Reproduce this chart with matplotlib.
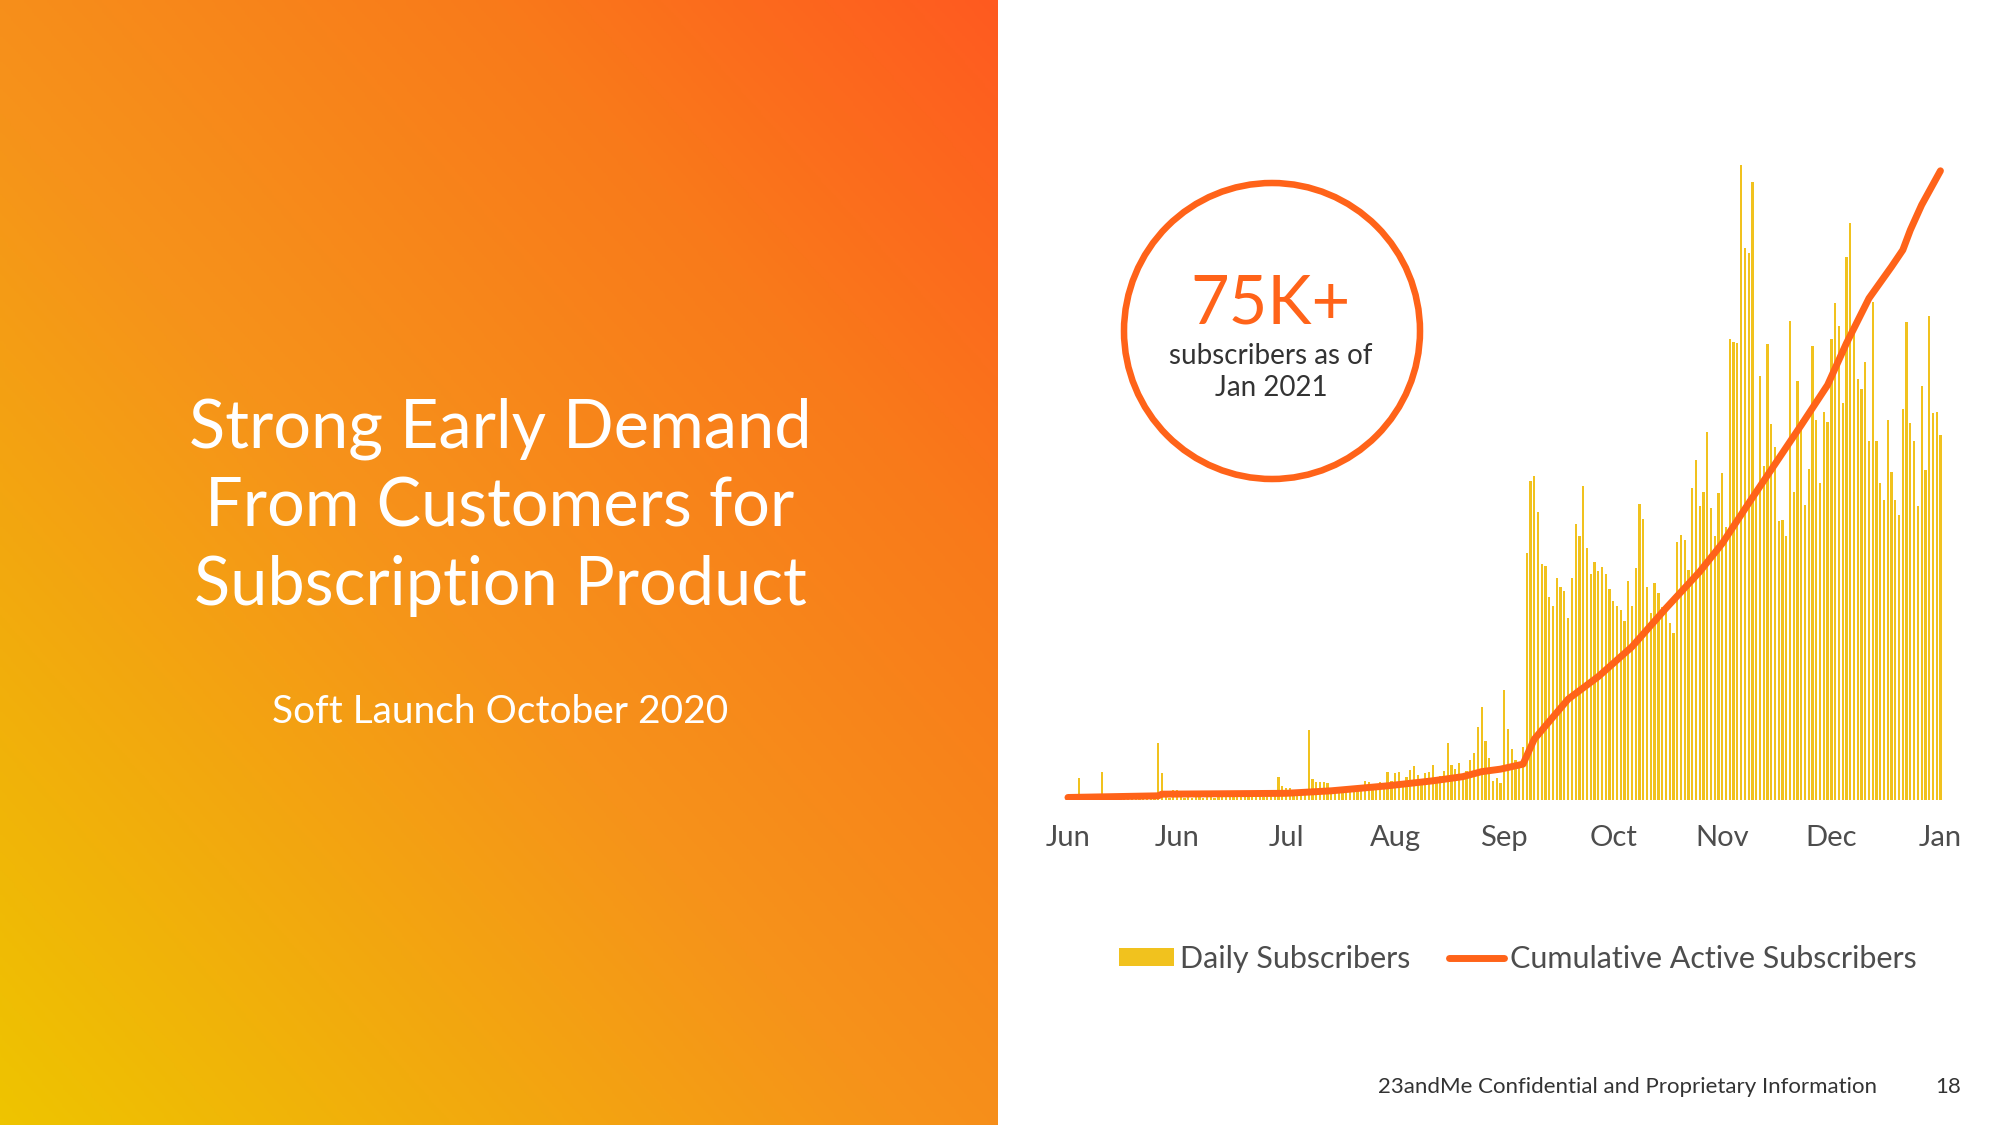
import numpy as np
import matplotlib
matplotlib.use("Agg")
import matplotlib.pyplot as plt
from matplotlib.colors import LinearSegmentedColormap
from matplotlib.patches import Circle, Patch
from matplotlib.lines import Line2D

plt.rcParams['font.family'] = ['Lato', 'DejaVu Sans']

# daily subscribers, one bar per day (arbitrary units)
daily_early = [0, 0, 1, 22, 1, 1, 0, 1, 1, 28, 1, 1, 1, 2, 1, 1, 2, 1, 1, 2,
               1, 2, 1, 2, 57, 27, 3, 2, 10, 10, 3, 2, 3, 2, 3, 3, 2, 3, 3, 2,
               3, 3, 4, 3, 3, 4, 3, 3, 4, 3, 4, 4, 3, 4, 4, 4, 23, 14, 12, 12,
               10, 6, 5, 5, 70, 21, 18, 18, 18, 17, 9, 8, 13, 9, 8, 10, 10, 9, 12, 19,
               18, 12, 13, 18, 14, 28, 19, 27, 28, 18, 23, 30, 34, 25, 18, 27, 28, 35, 18, 24,
               29, 57, 35, 31, 37, 26, 29, 40, 47, 73, 93, 59, 42, 19, 22, 17]
daily_late = [110, 71, 51, 40, 38, 53, 247, 319, 324, 288, 236, 234, 203, 194, 222, 213,
              209, 182, 222, 276, 264, 314, 252, 226, 238, 229, 233, 226, 211, 199, 194, 190,
              179, 219, 194, 232, 296, 281, 213, 187, 217, 207, 193, 190, 177, 167, 258, 265,
              260, 230, 312, 340, 294, 308, 368, 292, 264, 307, 327, 273, 461, 458,
              457, 635, 552, 547, 618, 311, 424, 334, 456, 376, 353, 279, 280, 264, 479, 308,
              419, 380, 295, 331, 454, 380, 317, 388, 378, 461, 497, 474, 397, 543, 577,
              470, 421, 411, 438, 359, 498, 359, 317, 300, 380, 328, 300, 285, 391, 478, 377,
              359, 294, 414, 330, 484, 387, 388, 365]
daily = daily_early + daily_late

# cumulative active subscribers (thousands), read at a few days
cum_day = [0, 24, 25, 58, 70, 85, 97, 105, 110, 115, 121, 124, 133, 141, 150, 159,
           168, 174, 181, 188, 195, 202, 207, 213, 219, 222, 224, 227, 232]
cum_k = [0.3, 0.5, 0.7, 0.8, 1.1, 1.7, 2.3, 2.8, 3.4, 3.7, 4.3, 7.3, 12.1, 14.8, 18.4, 23.0,
         27.4, 30.8, 35.6, 40.3, 45.0, 49.8, 54.8, 60.2, 64.0, 66.0, 68.4, 71.4, 75.5]

tick_day = [0, 29, 58, 87, 116, 145, 174, 203, 232]
tick_labels = ['Jun', 'Jun', 'Jul', 'Aug', 'Sep', 'Oct', 'Nov', 'Dec', 'Jan']

bar_color = '#F1C21E'
line_color = '#FF6319'
grey = '#4d4d4d'

fig = plt.figure(figsize=(20, 11.25), dpi=100)
fig.patch.set_facecolor('white')

# background layer in pixel coords (y down)
bg = fig.add_axes([0, 0, 1, 1])
bg.set_xlim(0, 2000)
bg.set_ylim(1125, 0)
bg.axis('off')

# gradient panel on the left
grad = LinearSegmentedColormap.from_list(
    'slide', [(0.0, '#EEC400'), (0.45, '#F6931A'), (0.75, '#F97A1A'), (1.0, '#FF5A20')])
gx, gy = np.meshgrid(np.linspace(0, 1, 400), np.linspace(0, 1, 450))
tt = (gx + (1 - gy)) / 2.0
bg.imshow(tt, cmap=grad, extent=[0, 998, 1125, 0], aspect='auto', vmin=0, vmax=1)

bg.text(500, 507, 'Strong Early Demand\nFrom Customers for\nSubscription Product',
        ha='center', va='center', color='white', fontsize=48, linespacing=1.33)
bg.text(500, 712, 'Soft Launch October 2020', ha='center', va='center',
        color='white', fontsize=28)

# callout circle
bg.add_patch(Circle((1272, 331), 148, facecolor='none', edgecolor=line_color, lw=4.7))
bg.text(1271, 304, '75K+', ha='center', va='center', color=line_color, fontsize=48)
bg.text(1271, 372, 'subscribers as of\nJan 2021', ha='center', va='center',
        color='#333333', fontsize=20, linespacing=1.3)

bg.text(1378, 1087, '23andMe Confidential and Proprietary Information', ha='left',
        va='center', color='#333333', fontsize=16)
bg.text(1948, 1087, '18', ha='center', va='center', color='#333333', fontsize=16)

# chart
ax = fig.add_axes([0.5321, 0.2889, 0.44, 0.5778])
ax.patch.set_alpha(0)
days = np.arange(len(daily))
ax.bar(days, daily, width=0.6, color=bar_color, zorder=2)
ax.set_xlim(-1, 233)
ax.set_ylim(0, 650)
ax.set_xticks(tick_day)
ax.set_xticklabels(tick_labels, fontsize=21, color=grey)
ax.tick_params(axis='x', length=0, pad=18)
ax.set_yticks([])
for s in ax.spines.values():
    s.set_visible(False)

ax2 = ax.twinx()
ax2.plot(cum_day, cum_k, color=line_color, lw=5, solid_capstyle='round',
         solid_joinstyle='round', zorder=3)
ax2.set_ylim(0, 78)
ax2.set_yticks([])
for s in ax2.spines.values():
    s.set_visible(False)

handles = [Patch(facecolor=bar_color, edgecolor='none'),
           Line2D([0], [0], color=line_color, lw=5, solid_capstyle='round')]
leg = ax2.legend(handles, ['Daily Subscribers', 'Cumulative Active Subscribers'],
                 loc='center', bbox_to_anchor=(0.759, 0.1476), bbox_transform=fig.transFigure,
                 ncol=2, frameon=False, fontsize=22, handlelength=1.8, handleheight=0.5,
                 handletextpad=0.2, columnspacing=1.25)
for t in leg.get_texts():
    t.set_color(grey)

fig.savefig('out.png', dpi=100)
